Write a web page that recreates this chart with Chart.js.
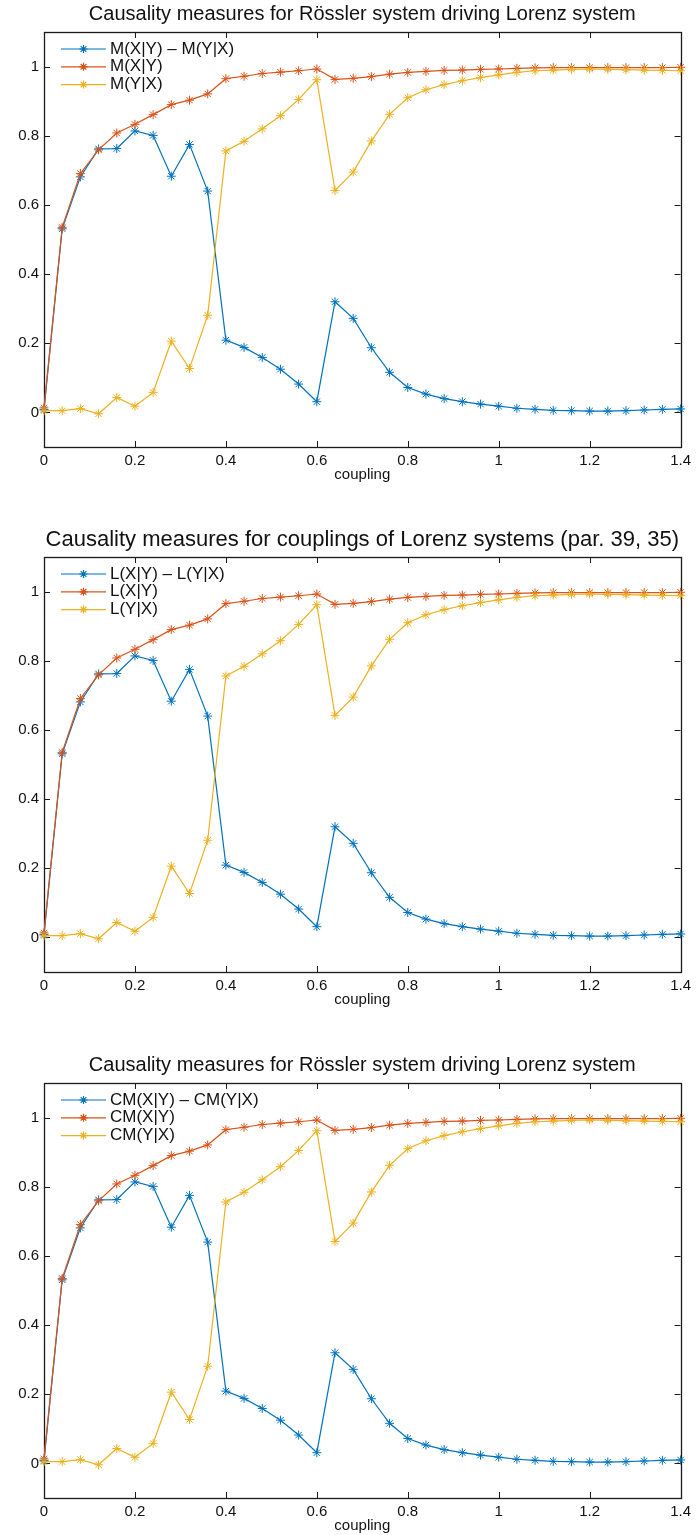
<!DOCTYPE html>
<html>
<head>
<meta charset="utf-8">
<script src="https://cdn.jsdelivr.net/npm/chart.js@4.4.0/dist/chart.umd.min.js"></script>
<style>
  body { margin: 0; background: #fff; }
  .plot { position: absolute; left: 0; width: 696px; }
  canvas { display: block; }
</style>
</head>
<body>
<div class="plot" style="top:0px"><canvas id="chart1"></canvas></div>
<div class="plot" style="top:525px"><canvas id="chart2"></canvas></div>
<div class="plot" style="top:1051px"><canvas id="chart3"></canvas></div>
<script>
// coupling strength on the x axis
const coupling = [0, 0.04, 0.08, 0.12, 0.16, 0.2, 0.24, 0.28, 0.32, 0.36, 0.4, 0.44, 0.48, 0.52, 0.56, 0.6,
  0.64, 0.68, 0.72, 0.76, 0.8, 0.84, 0.88, 0.92, 0.96, 1, 1.04, 1.08, 1.12, 1.16, 1.2, 1.24, 1.28, 1.32, 1.36, 1.4];

// X|Y - Y|X (blue)
const diffValues = [0.008, 0.531, 0.681, 0.762, 0.763, 0.814, 0.801, 0.683, 0.775, 0.640, 0.209, 0.188, 0.159,
  0.125, 0.082, 0.031, 0.320, 0.272, 0.187, 0.116, 0.072, 0.053, 0.040, 0.031, 0.024, 0.018, 0.012, 0.009,
  0.006, 0.005, 0.004, 0.004, 0.005, 0.007, 0.009, 0.010];

// X|Y (orange)
const xyValues = [0.013, 0.535, 0.691, 0.759, 0.808, 0.833, 0.861, 0.890, 0.903, 0.921, 0.965, 0.972, 0.980,
  0.984, 0.988, 0.993, 0.963, 0.966, 0.971, 0.978, 0.983, 0.986, 0.989, 0.990, 0.992, 0.993, 0.995, 0.996,
  0.997, 0.997, 0.997, 0.997, 0.997, 0.997, 0.997, 0.998];

// Y|X (yellow)
const yxValues = [0.005, 0.005, 0.011, -0.004, 0.043, 0.018, 0.058, 0.206, 0.127, 0.281, 0.756, 0.784, 0.820,
  0.858, 0.905, 0.962, 0.642, 0.695, 0.785, 0.862, 0.910, 0.933, 0.948, 0.959, 0.968, 0.976, 0.983, 0.988,
  0.990, 0.992, 0.993, 0.992, 0.991, 0.990, 0.989, 0.988];

const xTicks = [0, 0.2, 0.4, 0.6, 0.8, 1, 1.2, 1.4];
const yTicks = [0, 0.2, 0.4, 0.6, 0.8, 1];

const titles = [
  "Causality measures for Rössler system driving Lorenz system",
  "Causality measures for couplings of Lorenz systems (par. 39, 35)",
  "Causality measures for Rössler system driving Lorenz system"
];
const legendLabels = [
  ["M(X|Y) – M(Y|X)", "M(X|Y)", "M(Y|X)"],
  ["L(X|Y) – L(Y|X)", "L(X|Y)", "L(Y|X)"],
  ["CM(X|Y) – CM(Y|X)", "CM(X|Y)", "CM(Y|X)"]
];

const colors = ["#0072BD", "#D95319", "#EDB120"];
const FONT = "'Liberation Sans', Arial, Helvetica, sans-serif";

function toPoints(vals) {
  return coupling.map((c, i) => ({ x: c, y: vals[i] }));
}

// MATLAB style box with ticks pointing inward
const boxPlugin = {
  id: "box",
  beforeDatasetsDraw(chart) {
    const { ctx, chartArea: a, scales } = chart;
    const len = 6;
    ctx.save();
    ctx.strokeStyle = "#1a1a1a";
    ctx.lineWidth = 1;
    xTicks.forEach(v => {
      const px = Math.round(scales.x.getPixelForValue(v)) + 0.5;
      ctx.beginPath();
      ctx.moveTo(px, a.bottom); ctx.lineTo(px, a.bottom - len);
      ctx.moveTo(px, a.top); ctx.lineTo(px, a.top + len);
      ctx.stroke();
    });
    yTicks.forEach(v => {
      const py = Math.round(scales.y.getPixelForValue(v)) + 0.5;
      ctx.beginPath();
      ctx.moveTo(a.left, py); ctx.lineTo(a.left + len, py);
      ctx.moveTo(a.right, py); ctx.lineTo(a.right - len, py);
      ctx.stroke();
    });
    ctx.lineWidth = 1.3;
    ctx.strokeRect(Math.round(a.left) + 0.5, Math.round(a.top) + 0.5,
      Math.round(a.right - a.left), Math.round(a.bottom - a.top));
    ctx.restore();
  }
};

// legend drawn in the upper left of the axes, no frame
const legendPlugin = {
  id: "innerLegend",
  afterDatasetsDraw(chart) {
    const { ctx, chartArea: a } = chart;
    ctx.save();
    ctx.font = "17px " + FONT;
    ctx.textBaseline = "middle";
    ctx.textAlign = "left";
    chart.data.datasets.forEach((ds, i) => {
      const y = a.top + 17 + i * 17.8;
      ctx.strokeStyle = ds.borderColor;
      ctx.lineWidth = 1.2;
      ctx.beginPath();
      ctx.moveTo(a.left + 17, y); ctx.lineTo(a.left + 62, y);
      ctx.stroke();
      Chart.helpers.drawPoint(ctx, { pointStyle: "star", radius: 4, rotation: 0, borderWidth: 1 }, a.left + 39.5, y);
      ctx.fillStyle = "#111";
      ctx.fillText(ds.label, a.left + 66, y);
    });
    ctx.restore();
  }
};

function makeChart(id, idx, height, titleSize) {
  const canvas = document.getElementById(id);
  canvas.width = 696;
  canvas.height = height;
  const series = [diffValues, xyValues, yxValues];
  const datasets = series.map((vals, i) => ({
    label: legendLabels[idx][i],
    data: toPoints(vals),
    borderColor: colors[i],
    backgroundColor: colors[i],
    borderWidth: 1.2,
    pointStyle: "star",
    pointRadius: 4.5,
    pointBorderWidth: 1,
    pointBorderColor: colors[i],
    tension: 0,
    clip: false,
    order: 3 - i
  }));
  const titleLine = titleSize * 1.2;
  const titleTop = 14.5 - titleLine / 2;
  new Chart(canvas, {
    type: "line",
    data: { datasets: datasets },
    options: {
      responsive: false,
      animation: false,
      events: [],
      layout: { padding: { left: 0, right: 14, top: 0, bottom: 0 } },
      plugins: {
        legend: { display: false },
        tooltip: { enabled: false },
        title: {
          display: true,
          fullSize: false,
          text: titles[idx],
          color: "#111",
          font: { family: FONT, size: titleSize, weight: "normal" },
          padding: { top: titleTop, bottom: 32 - titleTop - titleLine }
        }
      },
      scales: {
        x: {
          type: "linear",
          min: 0,
          max: 1.4,
          afterFit: s => { s.height = height - 447; },
          afterBuildTicks: s => { s.ticks = xTicks.map(v => ({ value: v })); },
          grid: { display: true, drawOnChartArea: false, drawTicks: false },
          border: { display: false },
          ticks: {
            padding: 5,
            color: "#111",
            font: { family: FONT, size: 15 },
            maxRotation: 0,
            callback: v => String(+v.toFixed(1))
          },
          title: {
            display: true,
            text: "coupling",
            color: "#111",
            font: { family: FONT, size: 15 },
            padding: { top: 0, bottom: height - 475 - 9 }
          }
        },
        y: {
          min: -0.1,
          max: 1.1,
          afterFit: s => { s.width = 44; },
          afterBuildTicks: s => { s.ticks = yTicks.map(v => ({ value: v })); },
          grid: { display: true, drawOnChartArea: false, drawTicks: false },
          border: { display: false },
          ticks: {
            padding: 5,
            color: "#111",
            font: { family: FONT, size: 15 },
            callback: v => String(+v.toFixed(1))
          }
        }
      }
    },
    plugins: [boxPlugin, legendPlugin]
  });
}

makeChart("chart1", 0, 525, 20);
makeChart("chart2", 1, 526, 22);
makeChart("chart3", 2, 484, 20);
</script>
</body>
</html>
